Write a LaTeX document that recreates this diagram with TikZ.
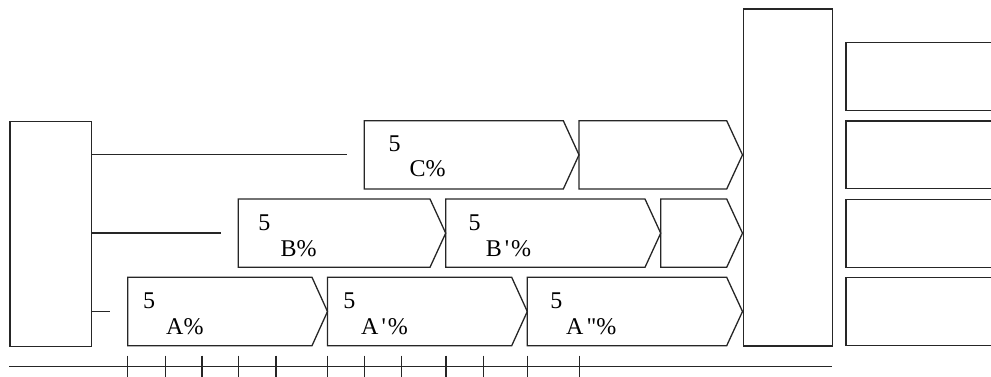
\documentclass[tikz,border=0pt]{standalone}
\usepackage{fontspec}
\setmainfont{Liberation Serif}
\newcommand\myarrowbox[6]{%
  \draw[boxline] (#2,#5) -- (#3,#5) -- (#4,{(#5+#6)/2}) -- (#3,#6) -- (#2,#6) -- cycle;
  \coordinate (#1) at (#2,#5);}
\begin{document}
\begin{tikzpicture}[x=1pt,y=-1pt,
  boxline/.style={line width=1.3pt, line join=miter, draw=black!85},
  plain/.style={line width=1.3pt, draw=black!85},
  lbl/.style={anchor=base west, inner sep=0pt, font=\fontsize{24}{28}\selectfont}]
\useasboundingbox (0,0) rectangle (991,376);
\clip (0,0) rectangle (991,376);

% left box
\node (L) [draw, plain, inner sep=0pt, minimum width=81.7pt, minimum height=225pt, anchor=north west] at (9.3,120.7) {};
\coordinate (e1) at (346.7,154.7);
\coordinate (e2) at (220.7,233);
\coordinate (e3) at (110,311.3);
\draw[plain] (L.east |- e1) -- (e1);
\draw[plain] (L.east |- e2) -- (e2);
\draw[plain] (L.east |- e3) -- (e3);

% row A
\myarrowbox{A1}{127.7}{312}{327.5}{277.3}{345.7}
\myarrowbox{A2}{327.5}{511.7}{527.3}{277.3}{345.7}
\myarrowbox{A3}{527.3}{726.7}{742.5}{277.3}{345.7}
% row B
\myarrowbox{B1}{238.3}{430}{445.7}{199}{267.3}
\myarrowbox{B2}{445.7}{645}{660.7}{199}{267.3}
\myarrowbox{B3}{660.7}{726.7}{742.5}{199}{267.3}
% row C
\myarrowbox{C1}{364.3}{563.3}{579}{120.7}{189}
\myarrowbox{C2}{579}{726.7}{742.5}{120.7}{189}

% big box
\node (M) [draw, plain, inner sep=0pt, minimum width=89pt, minimum height=337pt, anchor=north west] at (742.7,8.3) {};

% right boxes
\draw[plain] (1000,42.3) -- (846,42.3) -- (846,110.7) -- (1000,110.7);
\draw[plain] (1000,121) -- (846,121) -- (846,188.7) -- (1000,188.7);
\draw[plain] (1000,199.3) -- (846,199.3) -- (846,267.3) -- (1000,267.3);
\draw[plain] (1000,277.7) -- (846,277.7) -- (846,345.3) -- (1000,345.3);

% labels
\node[lbl] (tA1) at (142.9,308.7) {5};
\node[lbl] (sA1) at (166.0,334.3) {A\%};
\node[lbl] (tA2) at (343.2,308.7) {5};
\node[lbl] (sA2) at (361.0,334.3) {A\kern3pt\textquotesingle\kern2pt\%};
\node[lbl] (tA3) at (550.2,308.7) {5};
\node[lbl] (sA3) at (566.0,334.3) {A\kern3pt\textquotedbl\%};
\node[lbl] (tB1) at (258.2,230.6) {5};
\node[lbl] (sB1) at (280.4,256.3) {B\%};
\node[lbl] (tB2) at (468.5,230.6) {5};
\node[lbl] (sB2) at (485.7,256.3) {B\kern3pt\textquotesingle\kern2pt\%};
\node[lbl] (tC1) at (388.5,151.7) {5};
\node[lbl] (sC1) at (409.3,176.7) {C\%};

% timeline
\coordinate (t0) at (9.3,366.3);
\coordinate (t1) at (831.7,366.3);
\draw[plain] (t0) -- (t1);
\foreach \x in {127.7,165.3,202,238.7,276,327.5,364.7,401.3,446,483.3,527.3,579.3}
  \draw[plain] (\x,355.7) -- (\x,380);
\end{tikzpicture}
\end{document}
